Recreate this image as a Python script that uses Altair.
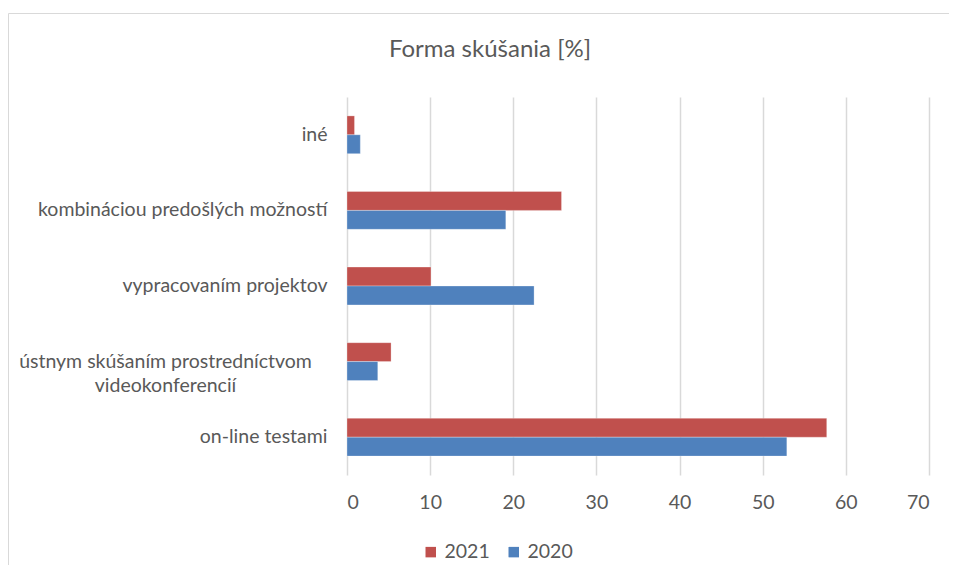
import altair as alt
import pandas as pd

categories = ["iné", "kombináciou predošlých možností", "vypracovaním projektov",
              "ústnym skúšaním prostredníctvom|videokonferencií", "on-line testami"]
values_2021 = [0.9, 25.8, 10.1, 5.3, 57.7]
values_2020 = [1.6, 19.1, 22.5, 3.7, 52.9]
series = ["2021", "2020"]
x_ticks = [0, 10, 20, 30, 40, 50, 60, 70]
title_text = "Forma skúšania [%]"

rows = []
for c, a, b in zip(categories, values_2021, values_2020):
    rows.append({"kat": c, "rok": "2021", "hodnota": a})
    rows.append({"kat": c, "rok": "2020", "hodnota": b})
df = pd.DataFrame(rows)

FONT = "Lato"
GREY = "#595959"
FS = 19.5

bars = alt.Chart(df).mark_bar(stroke="white", strokeOpacity=0.35, strokeWidth=0.8).encode(
    x=alt.X("hodnota:Q", scale=alt.Scale(domain=[0, 70], nice=False),
            axis=alt.Axis(values=x_ticks, title=None, ticks=False, domain=False,
                          grid=True, gridColor="#d9d9d9", gridWidth=1.5,
                          labelFont=FONT, labelFontSize=FS, labelColor=GREY,
                          labelPadding=18)),
    y=alt.Y("kat:N", sort=categories,
            scale=alt.Scale(paddingInner=0.5, paddingOuter=0.25),
            axis=alt.Axis(title=None, ticks=False, domain=False,
                          labelFont=FONT, labelFontSize=FS, labelColor=GREY,
                          labelLimit=400, labelLineHeight=24,
                          labelExpr="split(datum.label, '|')",
                          labelAlign={"condition": {"test": "indexof(datum.label, 'ústnym') == 0", "value": "center"}, "value": "right"},
                          labelPadding={"condition": {"test": "indexof(datum.label, 'ústnym') == 0", "value": 182}, "value": 20})),
    yOffset=alt.YOffset("rok:N", sort=series, scale=alt.Scale(paddingInner=0, paddingOuter=0)),
    color=alt.Color("rok:N", sort=series,
                    scale=alt.Scale(domain=series, range=["#C0504D", "#4F81BD"]),
                    legend=alt.Legend(title=None, orient="none", direction="horizontal",
                                      legendX=74, legendY=445, symbolType="square",
                                      symbolSize=110, symbolStrokeWidth=0,
                                      labelFont=FONT, labelFontSize=FS, labelColor=GREY,
                                      columnPadding=14)),
)

frame = alt.Chart(alt.Data(values=[{}])).mark_rect(fill=None, stroke="#d9d9d9", strokeWidth=1).encode(
    x=alt.value(-338.5), x2=alt.value(700), y=alt.value(-83.5), y2=alt.value(600)
)

title = alt.Chart(alt.Data(values=[{}])).mark_text(
    text=title_text, font=FONT, fontSize=24, color=GREY, align="center", baseline="middle"
).encode(x=alt.value(143), y=alt.value(-47))

chart = alt.layer(frame, title, bars).properties(
    width=582, height=378,
    autosize=alt.AutoSizeParams(type="none"),
    padding={"left": 339, "top": 89, "right": 20, "bottom": 90},
).configure_view(stroke=None)

chart.save("out.html", embed_options={"renderer": "svg", "actions": False})
